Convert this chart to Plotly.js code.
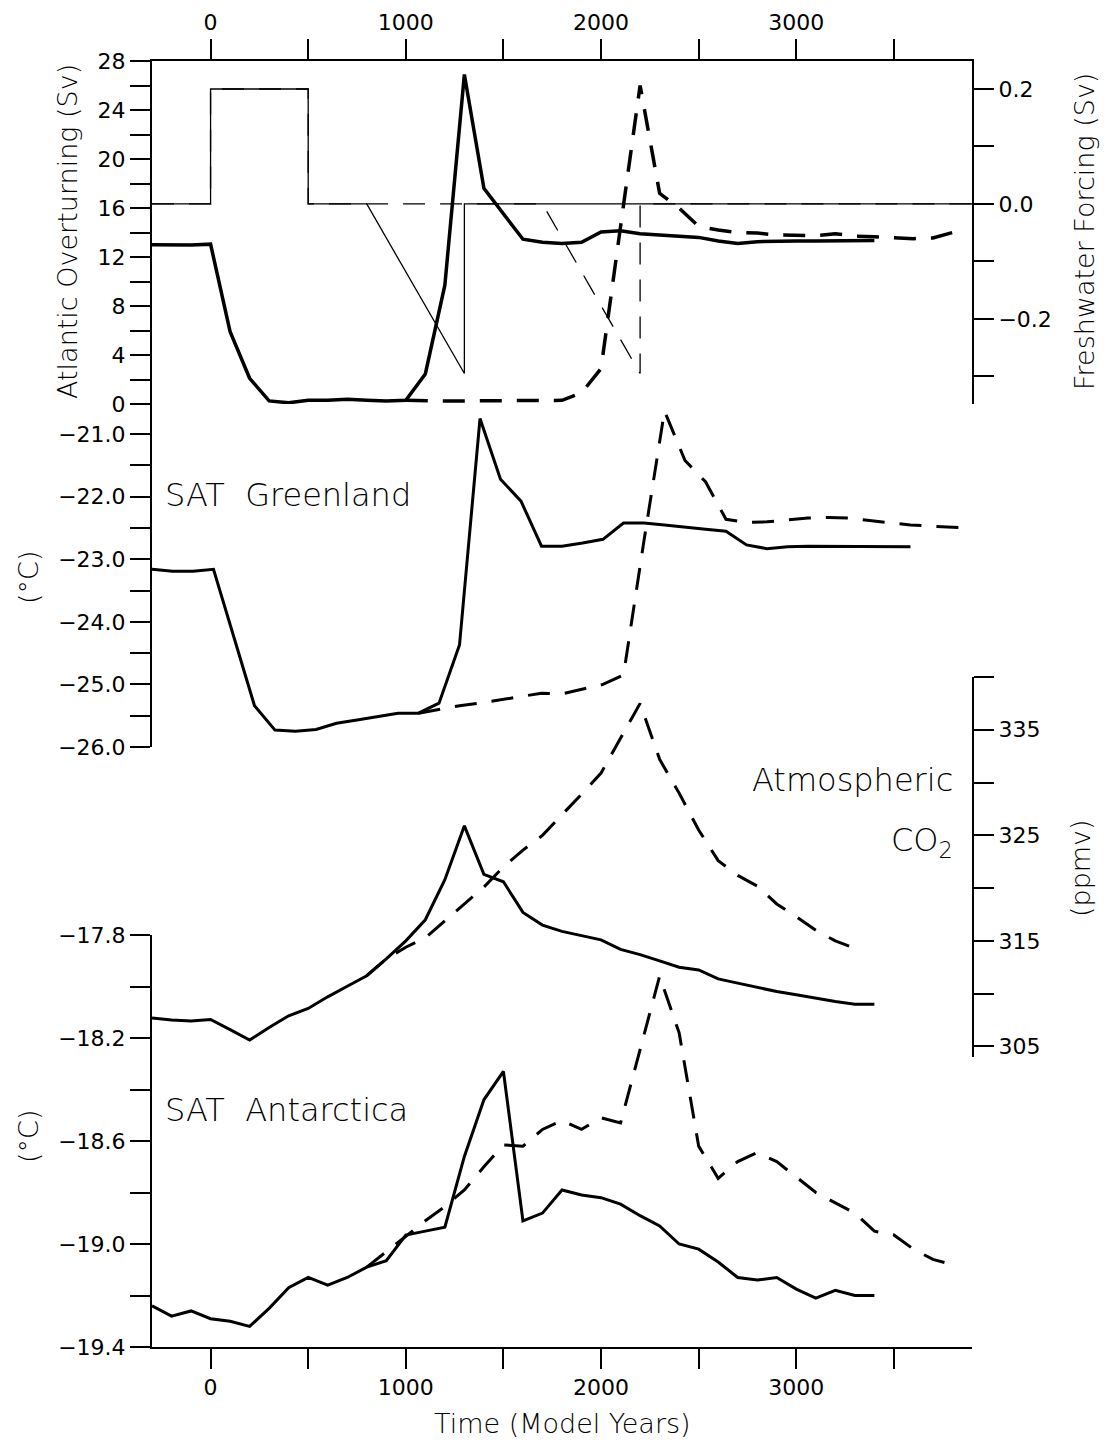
<!DOCTYPE html>
<html>
<head>
<meta charset="utf-8">
<script src="https://cdn.plot.ly/plotly-3.0.1.min.js"></script>
<style>html,body{margin:0;padding:0;background:#fff;}</style>
</head>
<body>
<div id="chart" style="width:1106px;height:1442px;"></div>
<script>
// ---------------- DATA ----------------
// Time axis ticks
const timeTickVals = [0, 500, 1000, 1500, 2000, 2500, 3000, 3500];
const timeTickText = ['0', '', '1000', '', '2000', '', '3000', ''];

// Atlantic overturning (Sv)
const amocSolidYears = [-300,-200,-100,0,100,200,300,400,500,600,700,800,900,1000,1100,1200,1300,1400,1500,1600,1700,1800,1900,2000,2100,2200,2300,2400,2500,2600,2700,2800,2900,3000,3100,3200,3300,3400];
const amocSolid = [13.0,12.97,12.97,13.05,5.9,2.1,0.25,0.1,0.3,0.3,0.38,0.3,0.25,0.3,2.45,9.7,26.9,17.6,15.5,13.45,13.2,13.1,13.2,14.05,14.15,13.9,13.8,13.7,13.6,13.3,13.1,13.25,13.3,13.3,13.3,13.3,13.35,13.35];
const amocDashYears = [1000,1100,1200,1300,1400,1500,1600,1700,1800,1900,2000,2100,2200,2300,2400,2500,2600,2700,2800,2900,3000,3100,3200,3300,3400,3500,3600,3700,3800];
const amocDash = [0.3,0.25,0.25,0.25,0.25,0.25,0.25,0.25,0.3,0.9,2.9,14.5,26.0,17.2,16.0,14.5,14.2,14.0,13.95,13.8,13.8,13.75,13.9,13.7,13.66,13.6,13.5,13.55,14.0];

// Freshwater forcing (Sv)
const fwSolidYears = [-300,0,0,500,500,800,1300,1300,3900];
const fwSolid = [0,0,0.2,0.2,0,0,-0.295,0,0];
const fwDashYears = [-300,0,0,500,500,1700,2200,2200,3900];
const fwDash = [0,0,0.2,0.2,0,0,-0.295,0,0];

// SAT Greenland (degC) - positions as drawn on the time axis
const grnSolidYears = [-300,-195,-90,15,120,225,330,435,540,645,750,855,960,1065,1170,1275,1380,1485,1590,1695,1800,1905,2010,2115,2220,2325,2430,2535,2640,2745,2850,2955,3060,3165,3270,3375,3480,3585];
const grnSolid = [-23.16,-23.19,-23.19,-23.16,-24.25,-25.34,-25.73,-25.75,-25.72,-25.62,-25.57,-25.52,-25.46,-25.46,-25.30,-24.37,-20.75,-21.72,-22.07,-22.79,-22.79,-22.74,-22.68,-22.42,-22.42,-22.45,-22.49,-22.52,-22.55,-22.77,-22.83,-22.80,-22.79,-22.79,-22.79,-22.79,-22.80,-22.80];
const grnDashYears = [1065,1170,1275,1380,1485,1590,1695,1800,1905,2010,2115,2220,2325,2430,2535,2640,2745,2850,2955,3060,3165,3270,3375,3480,3585,3690,3795,3900];
const grnDash = [-25.46,-25.40,-25.34,-25.30,-25.25,-25.20,-25.14,-25.15,-25.08,-25.0,-24.85,-22.70,-20.63,-21.42,-21.76,-22.36,-22.41,-22.40,-22.37,-22.34,-22.33,-22.34,-22.38,-22.42,-22.45,-22.47,-22.48,-22.50];

// Atmospheric CO2 (ppmv)
const co2SolidYears = [-300,-200,-100,0,100,200,300,400,500,600,700,800,900,1000,1100,1200,1300,1400,1500,1600,1700,1800,1900,2000,2100,2200,2300,2400,2500,2600,2700,2800,2900,3000,3100,3200,3300,3400];
const co2Solid = [307.7,307.5,307.4,307.55,306.6,305.6,306.8,307.9,308.6,309.7,310.7,311.7,313.3,315.0,317.0,320.8,325.9,321.3,320.6,317.7,316.5,315.9,315.5,315.1,314.2,313.7,313.1,312.5,312.25,311.4,311.0,310.6,310.2,309.9,309.55,309.25,309.0,309.0];
const co2DashYears = [800,900,1000,1100,1200,1300,1400,1500,1600,1700,1800,1900,2000,2100,2200,2300,2400,2500,2600,2700,2800,2900,3000,3100,3200,3300];
const co2Dash = [311.7,313.3,314.4,315.3,316.9,318.5,320.1,322.0,323.6,325.0,326.9,328.9,330.9,334.2,337.5,332.2,329.0,325.5,322.6,321.2,320.2,318.5,317.3,316.0,315.0,314.3];

// SAT Antarctica (degC)
const antSolidYears = [-300,-200,-100,0,100,200,300,400,500,600,700,800,900,1000,1100,1200,1300,1400,1500,1600,1700,1800,1900,2000,2100,2200,2300,2400,2500,2600,2700,2800,2900,3000,3100,3200,3300,3400];
const antSolid = [-19.24,-19.28,-19.26,-19.29,-19.30,-19.32,-19.25,-19.17,-19.13,-19.16,-19.13,-19.09,-19.065,-18.965,-18.95,-18.935,-18.66,-18.44,-18.33,-18.91,-18.88,-18.79,-18.81,-18.82,-18.845,-18.89,-18.93,-19.00,-19.02,-19.07,-19.13,-19.14,-19.13,-19.175,-19.21,-19.18,-19.20,-19.20];
const antDashYears = [800,900,1000,1100,1200,1300,1400,1500,1600,1700,1800,1900,2000,2100,2200,2300,2400,2500,2600,2700,2800,2900,3000,3100,3200,3300,3400,3500,3600,3700,3800];
const antDash = [-19.09,-19.03,-18.97,-18.91,-18.855,-18.79,-18.70,-18.615,-18.62,-18.555,-18.52,-18.555,-18.51,-18.53,-18.245,-17.96,-18.18,-18.62,-18.745,-18.68,-18.645,-18.68,-18.74,-18.80,-18.84,-18.88,-18.95,-18.965,-19.02,-19.06,-19.08];

// Axis tick labels
const amocTickVals = [0,2,4,6,8,10,12,14,16,18,20,22,24,26,28];
const amocTickText = ['0','','4','','8','','12','','16','','20','','24','','28'];
const fwTickVals = [-0.3,-0.2,-0.1,0,0.1,0.2];
const fwTickText = ['','\u22120.2','','0.0','','0.2'];
const grnTickVals = [-26,-25.5,-25,-24.5,-24,-23.5,-23,-22.5,-22,-21.5,-21];
const grnTickText = ['\u221226.0','','\u221225.0','','\u221224.0','','\u221223.0','','\u221222.0','','\u221221.0'];
const co2TickVals = [305,310,315,320,325,330,335,340];
const co2TickText = ['305','','315','','325','','335',''];
const antTickVals = [-19.4,-19.2,-19.0,-18.8,-18.6,-18.4,-18.2,-18.0,-17.8];
const antTickText = ['\u221219.4','','\u221219.0','','\u221218.6','','\u221218.2','','\u221217.8'];

// ---------------- CHART ----------------
const FONT = 'DejaVu Sans, Liberation Sans, sans-serif';
const DASH = '22px,15px';
function line(x, y, yaxis, width, dash) {
  return {x: x, y: y, xaxis: 'x', yaxis: yaxis, type: 'scatter', mode: 'lines',
          line: {color: '#000', width: width, dash: dash || 'solid'}, hoverinfo: 'skip'};
}
const traces = [
  line(fwSolidYears, fwSolid, 'y2', 1.3),
  line(fwDashYears, fwDash, 'y2', 1.3, DASH),
  line(amocSolidYears, amocSolid, 'y', 3.5),
  line(amocDashYears, amocDash, 'y', 3.5, DASH),
  line(grnSolidYears, grnSolid, 'y3', 3),
  line(grnDashYears, grnDash, 'y3', 3, DASH),
  line(co2SolidYears, co2Solid, 'y4', 3),
  line(co2DashYears, co2Dash, 'y4', 3, DASH),
  line(antSolidYears, antSolid, 'y5', 3),
  line(antDashYears, antDash, 'y5', 3, DASH),
  {x: [0], y: [null], xaxis: 'x2', yaxis: 'y', type: 'scatter', mode: 'lines', showlegend: false, hoverinfo: 'skip'}
];

const axBase = {showline: true, linecolor: '#000', linewidth: 2, ticks: 'outside', ticklen: 20,
  tickwidth: 2, tickcolor: '#000', showgrid: false, zeroline: false, fixedrange: true,
  tickfont: {family: FONT, size: 22, color: '#000'}, tickmode: 'array'};
function ax(extra) { return Object.assign({}, axBase, extra); }

const W = 820, H = 1286, L = 152, T = 61;
function px(x) { return (x - L) / W; }
function py(y) { return (T + H - y) / H; }
const titleFont = {family: FONT, size: 27, color: '#000', weight: 300};
const labelFont = {family: FONT, size: 32, color: '#000', weight: 300};
function ann(text, x, y, font, opts) {
  return Object.assign({text: text, xref: 'paper', yref: 'paper', x: px(x), y: py(y),
    showarrow: false, font: font, xanchor: 'center', yanchor: 'middle'}, opts || {});
}

const layout = {
  width: 1106, height: 1442,
  margin: {l: L, r: 1106 - L - W, t: T, b: 1442 - T - H, pad: 0},
  paper_bgcolor: '#fff', plot_bgcolor: 'rgba(0,0,0,0)',
  showlegend: false,
  font: {family: FONT, color: '#000'},
  xaxis: ax({range: [-300, 3900], anchor: 'y5', tickvals: timeTickVals, ticktext: timeTickText}),
  xaxis2: ax({range: [-300, 3900], overlaying: 'x', side: 'top', anchor: 'y', tickvals: timeTickVals, ticktext: timeTickText}),
  yaxis: ax({domain: [py(404), 1], range: [0, 28], anchor: 'x', side: 'left', tickvals: amocTickVals, ticktext: amocTickText}),
  yaxis2: ax({domain: [py(404), 1], range: [-0.348, 0.2487], anchor: 'x', overlaying: 'y', side: 'right', tickvals: fwTickVals, ticktext: fwTickText}),
  yaxis3: ax({domain: [py(747), py(404)], range: [-26, -20.517], anchor: 'x', side: 'left', tickvals: grnTickVals, ticktext: grnTickText}),
  yaxis4: ax({domain: [py(1057), py(677)], range: [304, 340], anchor: 'x', side: 'right', tickvals: co2TickVals, ticktext: co2TickText}),
  yaxis5: ax({domain: [0, py(935)], range: [-19.4, -17.8], anchor: 'x', side: 'left', tickvals: antTickVals, ticktext: antTickText}),
  annotations: [
    ann('Atlantic Overturning (Sv)', 68, 232, titleFont, {textangle: -90}),
    ann('Freshwater Forcing (Sv)', 1085, 232, titleFont, {textangle: -90}),
    ann('(\u00B0C)', 28, 578, titleFont, {textangle: -90}),
    ann('(\u00B0C)', 28, 1137, titleFont, {textangle: -90}),
    ann('(ppmv)', 1080, 868, titleFont, {textangle: -90}),
    ann('Time (Model Years)', 562, 1423, titleFont),
    ann('SAT\u00A0 Greenland', 163, 495, labelFont, {xanchor: 'left'}),
    ann('Atmospheric', 955, 780, labelFont, {xanchor: 'right'}),
    ann('CO<sub>2</sub>', 955, 842, labelFont, {xanchor: 'right'}),
    ann('SAT\u00A0 Antarctica', 163, 1110, labelFont, {xanchor: 'left'})
  ]
};

Plotly.newPlot('chart', traces, layout, {staticPlot: true, displayModeBar: false});
</script>
</body>
</html>
